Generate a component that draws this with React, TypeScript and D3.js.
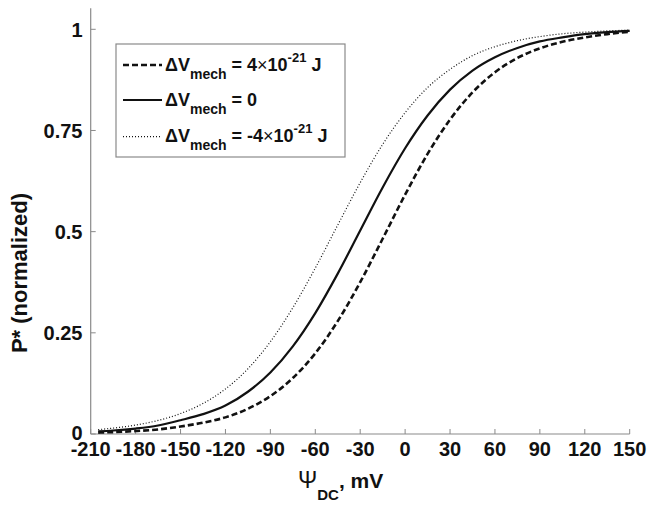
import React from "react";
import * as d3 from "d3";

const voltages = [-205, -195, -180, -165, -150, -135, -120, -105, -90, -75, -60, -45, -30, -15, 0, 15, 30, 45, 60, 75, 90, 105, 120, 135, 150];
const pPositive = [0.0035, 0.0047, 0.0073, 0.0113, 0.0185, 0.028, 0.0411, 0.0624, 0.0936, 0.1383, 0.1994, 0.2789, 0.3751, 0.4824, 0.5914, 0.692, 0.777, 0.844, 0.894, 0.929, 0.953, 0.969, 0.980, 0.988, 0.994];
const pZero = [0.0065, 0.0086, 0.0135, 0.021, 0.034, 0.049, 0.0703, 0.1044, 0.152, 0.2166, 0.2988, 0.3963, 0.5029, 0.6092, 0.706, 0.787, 0.851, 0.898, 0.931, 0.954, 0.970, 0.980, 0.988, 0.993, 0.996];
const pNegative = [0.0109, 0.0145, 0.0221, 0.0335, 0.0505, 0.0755, 0.1113, 0.1612, 0.228, 0.312, 0.410, 0.5164, 0.621, 0.7156, 0.794, 0.856, 0.901, 0.935, 0.957, 0.972, 0.982, 0.989, 0.993, 0.996, 0.998];

const xTicks = [-210, -180, -150, -120, -90, -60, -30, 0, 30, 60, 90, 120, 150];
const yTicks = [0, 0.25, 0.5, 0.75, 1];
const yTickLabels = ["0", "0.25", "0.5", "0.75", "1"];

const series = [
  { key: "pos", values: pPositive, dash: "6 3", width: 2.6, label: "4", unit: true },
  { key: "zero", values: pZero, dash: null, width: 2.2, label: "0", unit: false },
  { key: "neg", values: pNegative, dash: "1 2", width: 1.2, label: "-4", unit: true },
];

const FONT = "'Liberation Sans', Arial, Helvetica, sans-serif";
const AXIS = "#8a8a8a";

export default function App() {
  const W = 651, H = 509;
  const x = d3.scaleLinear().domain([-210, 150]).range([90.7, 629.7]);
  const y = d3.scaleLinear().domain([0, 1]).range([434, 29.3]);
  const yTop = y(1.052);

  const line = (vals: number[]) =>
    d3.line<number>()
      .x((_, i) => x(voltages[i]))
      .y((d) => y(d))
      .curve(d3.curveMonotoneX)(vals) || "";

  const legX = 116, legY = 44, legW = 229, legH = 113;
  const rowBase = [70.7, 105.5, 141.7];
  const rowLine = [65, 100, 136.7];

  return (
    <svg width={W} height={H} style={{ position: "absolute", left: 0, top: 0, background: "#fff" }} fontFamily={FONT}>
      <rect x={0} y={0} width={W} height={H} fill="#fff" />
      {/* axes */}
      <line x1={x(-210)} x2={x(-210)} y1={yTop} y2={y(0)} stroke={AXIS} strokeWidth={1.2} />
      <line x1={x(-210)} x2={x(150)} y1={y(0)} y2={y(0)} stroke={AXIS} strokeWidth={1.2} />
      {xTicks.map((t) => (
        <g key={"xt" + t}>
          <line x1={x(t)} x2={x(t)} y1={y(0)} y2={y(0) - 5} stroke={AXIS} strokeWidth={1} />
          <text x={x(t)} y={456} textAnchor="middle" fontSize={20} fontWeight="bold" fill="#111">{t}</text>
        </g>
      ))}
      {yTicks.map((t, i) => (
        <g key={"yt" + t}>
          <line x1={x(-210)} x2={x(-210) + 5} y1={y(t)} y2={y(t)} stroke={AXIS} strokeWidth={1} />
          <text x={82.5} y={t === 0 ? y(t) + 6 : y(t) + 7.5} textAnchor="end" fontSize={20} fontWeight="bold" fill="#111">{yTickLabels[i]}</text>
        </g>
      ))}
      {/* axis titles */}
      <text transform="translate(27,273) rotate(-90)" textAnchor="middle" fontSize={22} fontWeight="bold" fill="#111">P* (normalized)</text>
      <text x={298} y={488} fontSize={21} fill="#111">
        <tspan fontWeight="normal" fontSize={23}>Ψ</tspan>
        <tspan fontWeight="bold" fontSize={15} dy={12}>DC</tspan>
        <tspan fontWeight="bold" dy={-12}>, mV</tspan>
      </text>
      {/* curves */}
      {series.map((s) => (
        <path key={s.key} d={line(s.values)} fill="none" stroke="#111" strokeWidth={s.width}
          strokeDasharray={s.dash || undefined} />
      ))}
      {/* legend */}
      <rect x={legX} y={legY} width={legW} height={legH} fill="#fff" stroke={AXIS} strokeWidth={1.2} />
      {series.map((s, i) => (
        <g key={"leg" + s.key}>
          <line x1={123} x2={162} y1={rowLine[i]} y2={rowLine[i]} stroke="#111" strokeWidth={s.width}
            strokeDasharray={s.dash || undefined} />
          <text x={165} y={rowBase[i]} fontSize={18} fontWeight="bold" fill="#111">
            <tspan>ΔV</tspan>
            <tspan fontSize={14} dy={8}>mech</tspan>
            <tspan dy={-8}>{" = " + s.label}</tspan>
            {s.unit && (
              <>
                <tspan fontWeight="normal">×</tspan>
                <tspan>10</tspan>
                <tspan fontSize={13} dy={-9}>-21</tspan>
                <tspan dy={9}>{" J"}</tspan>
              </>
            )}
          </text>
        </g>
      ))}
    </svg>
  );
}
